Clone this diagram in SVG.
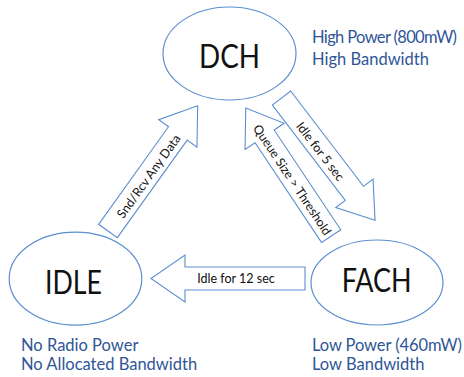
<svg xmlns="http://www.w3.org/2000/svg" xmlns:xlink="http://www.w3.org/1999/xlink" width="464" height="377" viewBox="0 0 464 377">
  <style>
    .state { fill: #ffffff; stroke: #5b8fcf; stroke-width: 1.2; }
    .big { font-family: Lato, "Open Sans", "Liberation Sans", sans-serif; font-size: 33px; fill: #111111; text-anchor: middle; }
    .note { font-family: Lato, "Open Sans", "Liberation Sans", sans-serif; font-size: 16.5px; fill: #2f5597; }
    .arrow { fill: #ffffff; stroke: #5b8fcf; stroke-width: 1.1; stroke-linejoin: miter; }
    .lbl { font-family: Lato, "Open Sans", "Liberation Sans", sans-serif; font-size: 12.5px; fill: #111111; text-anchor: middle; }
  </style>
  <defs>
    <path id="blockArrow" class="arrow" d="M0,-11.5 H120 V-23.5 L154,0 L120,23.5 V11.5 H0 Z"/>
  </defs>
  <rect width="464" height="377" fill="#ffffff"/>

  <g id="DCH">
    <ellipse class="state" cx="229.5" cy="53.5" rx="66.5" ry="46.5"/>
    <text class="big" x="229.5" y="68" textLength="61" lengthAdjust="spacingAndGlyphs">DCH</text>
    <text class="note" x="312" y="43" textLength="145">High Power (800mW)</text>
    <text class="note" x="312" y="65">High Bandwidth</text>
  </g>

  <g id="IDLE">
    <ellipse class="state" cx="75.5" cy="278.7" rx="66.3" ry="46.5"/>
    <text class="big" x="73.5" y="293.5" textLength="57" lengthAdjust="spacingAndGlyphs">IDLE</text>
    <text class="note" x="21" y="351">No Radio Power</text>
    <text class="note" x="21" y="369.5">No Allocated Bandwidth</text>
  </g>

  <g id="FACH">
    <ellipse class="state" cx="377" cy="282.5" rx="66" ry="42.5"/>
    <text class="big" x="376.7" y="291.7" textLength="70" lengthAdjust="spacingAndGlyphs">FACH</text>
    <text class="note" x="312" y="351" textLength="150">Low Power (460mW)</text>
    <text class="note" x="312" y="369.5">Low Bandwidth</text>
  </g>

  <g id="connectors">
    <use xlink:href="#blockArrow" href="#blockArrow" transform="translate(108,231) rotate(-54.4)"/>
    <use xlink:href="#blockArrow" href="#blockArrow" transform="translate(281.5,98) rotate(52.6)"/>
    <use xlink:href="#blockArrow" href="#blockArrow" transform="translate(331.2,236.2) rotate(236.3)"/>
    <use xlink:href="#blockArrow" href="#blockArrow" transform="translate(305,278.5) rotate(180)"/>
    <text class="lbl" transform="translate(149,176.5) rotate(-54.4)" y="4">Snd/Rcv Any Data</text>
    <text class="lbl" transform="translate(320,151.7) rotate(52.6)" y="4">Idle for 5 sec</text>
    <text class="lbl" transform="translate(292,180) rotate(56.3)" y="4">Queue Size &gt; Threshold</text>
    <text class="lbl" x="236" y="283">Idle for 12 sec</text>
  </g>
</svg>
